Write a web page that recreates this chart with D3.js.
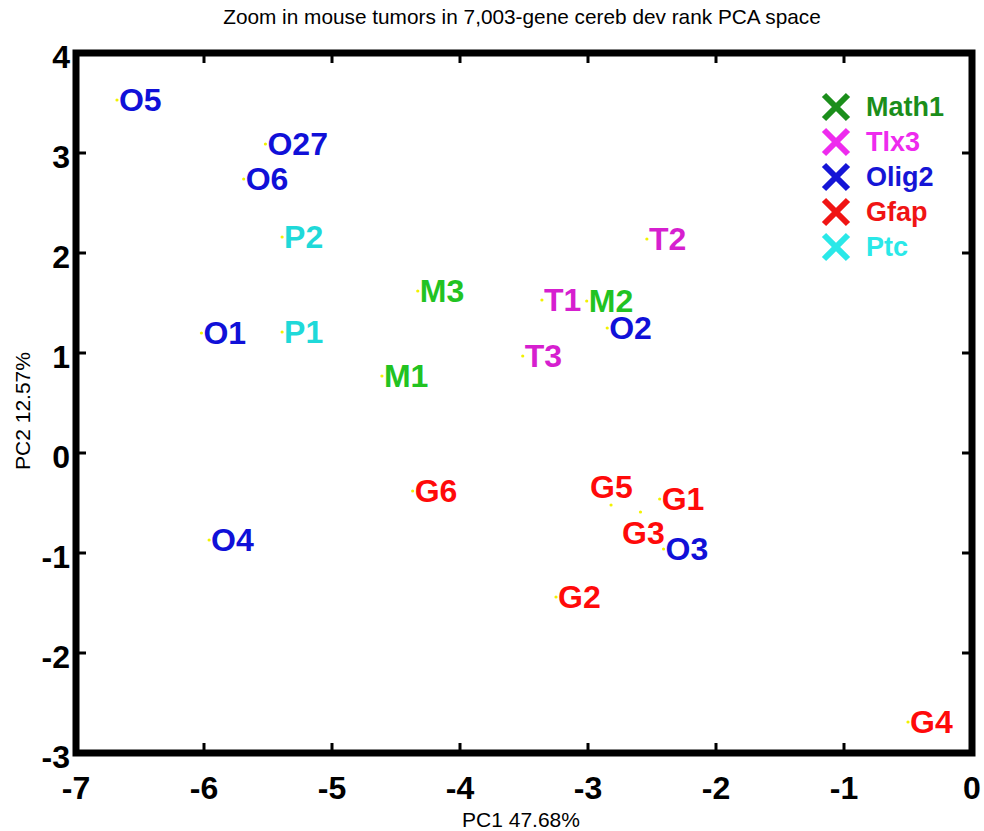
<!DOCTYPE html>
<html>
<head>
<meta charset="utf-8">
<script src="https://cdn.jsdelivr.net/npm/d3@7"></script>
<style>
  body { margin: 0; background: #fff; }
  svg { display: block; font-family: "Liberation Sans", Arial, sans-serif; }
</style>
</head>
<body>
<div id="chart"></div>
<script>
// samples in PC space
const sampleNames = ["O5", "O27", "O6", "P2", "M3", "T1", "M2", "O2", "T2", "T3", "M1", "O1", "P1",
  "O4", "G6", "G5", "G1", "G3", "O3", "G2", "G4"];
const pc1 = [-6.68, -5.52, -5.69, -5.39, -4.33, -3.36, -3.01, -2.85, -2.54, -3.51, -4.61, -6.02, -5.39,
  -5.96, -4.37, -2.82, -2.44, -2.59, -2.41, -3.25, -0.50];
const pc2 = [3.53, 3.09, 2.74, 2.16, 1.62, 1.53, 1.52, 1.25, 2.14, 0.97, 0.77, 1.20, 1.21,
  -0.87, -0.38, -0.52, -0.46, -0.59, -0.96, -1.44, -2.69];
const sampleGroup = ["Olig2", "Olig2", "Olig2", "Ptc", "Math1", "Tlx3", "Math1", "Olig2", "Tlx3", "Tlx3",
  "Math1", "Olig2", "Ptc", "Olig2", "Gfap", "Gfap", "Gfap", "Gfap", "Olig2", "Gfap", "Gfap"];

// a couple of labels were moved off their points (data coords of the text)
const movedLabels = { G5: [-3.0, -0.34], G3: [-2.75, -0.80] };

const groupNames = ["Math1", "Tlx3", "Olig2", "Gfap", "Ptc"];
const legendColors = ["#1b8e1b", "#ee2bee", "#1515d6", "#f01414", "#2ae8e8"];
const labelColors = ["#22c322", "#d61fcf", "#1010d8", "#ff0a0a", "#1fd9d9"];

const xTicks = [-7, -6, -5, -4, -3, -2, -1, 0];
const yTicks = [-3, -2, -1, 0, 1, 2, 3, 4];

const titleText = "Zoom in mouse tumors in 7,003-gene cereb dev rank PCA space";
const xLabel = "PC1 47.68%";
const yLabel = "PC2 12.57%";

// layout
const W = 984, H = 831;
const box = { left: 76, right: 972, top: 53, bottom: 753 };

const x = d3.scaleLinear().domain([-7, 0]).range([box.left, box.right]);
const y = d3.scaleLinear().domain([-3, 4]).range([box.bottom, box.top]);
const labelColor = d3.scaleOrdinal().domain(groupNames).range(labelColors);

const svg = d3.select("#chart").append("svg")
  .attr("width", W)
  .attr("height", H);

svg.append("rect").attr("width", W).attr("height", H).attr("fill", "#fff");

// title + axis labels
svg.append("text")
  .attr("x", 522).attr("y", 24)
  .attr("text-anchor", "middle")
  .attr("font-size", 20.8)
  .text(titleText);

svg.append("text")
  .attr("x", 521).attr("y", 827)
  .attr("text-anchor", "middle")
  .attr("font-size", 21)
  .text(xLabel);

svg.append("text")
  .attr("transform", "translate(30,411) rotate(-90)")
  .attr("text-anchor", "middle")
  .attr("font-size", 21)
  .text(yLabel);

// ticks (inward, on all four sides)
const tickLen = 10;
const ticks = svg.append("g").attr("stroke", "#000").attr("stroke-width", 3);
xTicks.forEach((t) => {
  ticks.append("line").attr("x1", x(t)).attr("x2", x(t)).attr("y1", box.bottom).attr("y2", box.bottom - tickLen);
  ticks.append("line").attr("x1", x(t)).attr("x2", x(t)).attr("y1", box.top).attr("y2", box.top + tickLen);
});
yTicks.forEach((t) => {
  ticks.append("line").attr("y1", y(t)).attr("y2", y(t)).attr("x1", box.left).attr("x2", box.left + tickLen);
  ticks.append("line").attr("y1", y(t)).attr("y2", y(t)).attr("x1", box.right).attr("x2", box.right - tickLen);
});

// tick labels
svg.append("g")
  .selectAll("text")
  .data(xTicks)
  .enter()
  .append("text")
  .attr("x", (d) => x(d))
  .attr("y", 799)
  .attr("text-anchor", "middle")
  .attr("font-size", 32)
  .attr("font-weight", "bold")
  .text((d) => d);

svg.append("g")
  .selectAll("text")
  .data(yTicks)
  .enter()
  .append("text")
  .attr("x", 70)
  .attr("y", (d) => y(d) + 15)
  .attr("text-anchor", "end")
  .attr("font-size", 32)
  .attr("font-weight", "bold")
  .text((d) => d);

// frame
svg.append("rect")
  .attr("x", box.left).attr("y", box.top)
  .attr("width", box.right - box.left)
  .attr("height", box.bottom - box.top)
  .attr("fill", "none")
  .attr("stroke", "#000")
  .attr("stroke-width", 7);

const samples = sampleNames.map((name, i) => ({
  name: name, pc1: pc1[i], pc2: pc2[i], group: sampleGroup[i]
}));

// the points themselves (tiny yellow dots)
svg.append("g")
  .selectAll("circle")
  .data(samples)
  .enter()
  .append("circle")
  .attr("cx", (d) => x(d.pc1))
  .attr("cy", (d) => y(d.pc2))
  .attr("r", 1.6)
  .attr("fill", "#f2f200");

// sample labels
svg.append("g")
  .selectAll("text")
  .data(samples)
  .enter()
  .append("text")
  .attr("x", (d) => x(movedLabels[d.name] ? movedLabels[d.name][0] : d.pc1) + 2)
  .attr("y", (d) => y(movedLabels[d.name] ? movedLabels[d.name][1] : d.pc2))
  .attr("dy", "0.35em")
  .attr("font-size", 32)
  .attr("font-weight", "bold")
  .attr("fill", (d) => labelColor(d.group))
  .text((d) => d.name);

// legend
const legend = svg.append("g").attr("transform", "translate(836,107)");
const rowGap = 35;
const xs = 12;
groupNames.forEach((g, i) => {
  const row = legend.append("g").attr("transform", `translate(0,${i * rowGap})`);
  row.append("path")
    .attr("d", `M${-xs},${-xs}L${xs},${xs}M${-xs},${xs}L${xs},${-xs}`)
    .attr("stroke", legendColors[i])
    .attr("stroke-width", 6)
    .attr("fill", "none");
  row.append("text")
    .attr("x", 30)
    .attr("dy", "0.35em")
    .attr("font-size", 27)
    .attr("font-weight", "bold")
    .attr("fill", legendColors[i])
    .text(g);
});
</script>
</body>
</html>
